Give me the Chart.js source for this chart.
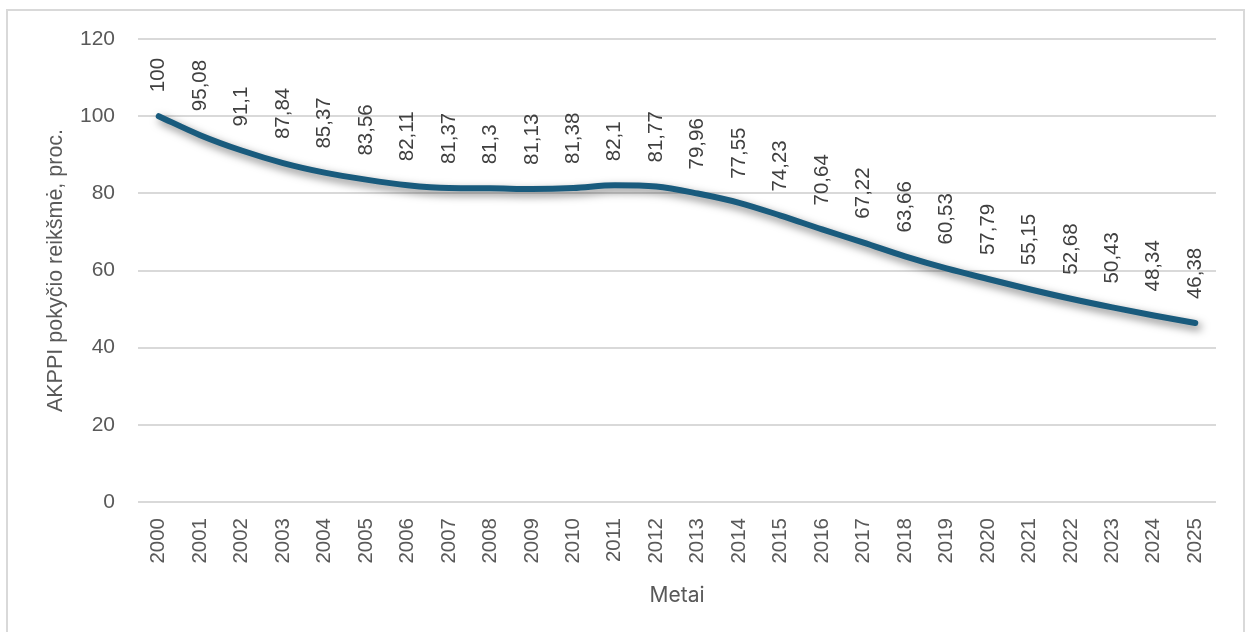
<!DOCTYPE html>
<html>
<head>
<meta charset="utf-8">
<script src="https://cdn.jsdelivr.net/npm/chart.js@4.4.1/dist/chart.umd.min.js"></script>
<style>
    html, body { margin: 0; padding: 0; background: #fff; overflow: hidden; }
    #frame {
        position: absolute; left: 6px; top: 9px; width: 1239px; height: 700px;
        border: 2px solid #d9d9d9; box-sizing: border-box; background: #fff;
    }
    #wrap { position: absolute; left: 0; top: 0; width: 1251px; height: 632px; }
</style>
</head>
<body>
<div id="frame"></div>
<div id="wrap"><canvas id="chart" width="1251" height="632"></canvas></div>
<script>
// metai ir AKPPI pokyčio reikšmės
const years = ['2000', '2001', '2002', '2003', '2004', '2005', '2006', '2007', '2008', '2009',
    '2010', '2011', '2012', '2013', '2014', '2015', '2016', '2017', '2018', '2019',
    '2020', '2021', '2022', '2023', '2024', '2025'];
const values = [100, 95.08, 91.1, 87.84, 85.37, 83.56, 82.11, 81.37, 81.3, 81.13,
    81.38, 82.1, 81.77, 79.96, 77.55, 74.23, 70.64, 67.22, 63.66, 60.53,
    57.79, 55.15, 52.68, 50.43, 48.34, 46.38];
const yTicks = [0, 20, 40, 60, 80, 100, 120];

const textColor = '#595959';
const lineColor = '#195b7d';
const baseFont = '"Liberation Sans", Arial, sans-serif';

// šešėlis linijai
const shadowPlugin = {
    id: 'lineShadow',
    beforeDatasetDraw(chart) {
        const ctx = chart.ctx;
        ctx.save();
        ctx.shadowColor = 'rgba(0, 0, 0, 0.5)';
        ctx.shadowBlur = 8;
        ctx.shadowOffsetX = 3;
        ctx.shadowOffsetY = 4;
    },
    afterDatasetDraw(chart) {
        chart.ctx.restore();
    }
};

// vertikalios reikšmių etiketės virš taškų
const valueLabels = {
    id: 'valueLabels',
    afterDatasetsDraw(chart) {
        const ctx = chart.ctx;
        const meta = chart.getDatasetMeta(0);
        ctx.save();
        ctx.font = '20.5px ' + baseFont;
        ctx.fillStyle = '#404040';
        ctx.textAlign = 'left';
        ctx.textBaseline = 'middle';
        meta.data.forEach((pt, i) => {
            const txt = String(values[i]).replace('.', ',');
            ctx.save();
            ctx.translate(pt.x, pt.y - 24);
            ctx.rotate(-Math.PI / 2);
            ctx.fillText(txt, 0, 0);
            ctx.restore();
        });
        ctx.restore();
    }
};

new Chart(document.getElementById('chart'), {
    type: 'line',
    data: {
        labels: years,
        datasets: [{
            data: values,
            borderColor: lineColor,
            borderWidth: 6,
            borderCapStyle: 'round',
            borderJoinStyle: 'round',
            pointRadius: 0,
            fill: false,
            cubicInterpolationMode: 'monotone'
        }]
    },
    plugins: [shadowPlugin, valueLabels],
    options: {
        responsive: false,
        animation: false,
        layout: { padding: { top: 39, right: 35, bottom: 0, left: 0 } },
        plugins: {
            legend: { display: false },
            tooltip: { enabled: false }
        },
        scales: {
            x: {
                offset: true,
                grid: { display: false, drawTicks: false },
                border: { display: false },
                ticks: {
                    color: textColor,
                    minRotation: 90,
                    maxRotation: 90,
                    autoSkip: false,
                    padding: 16,
                    font: { family: baseFont, size: 20.5 }
                },
                title: {
                    display: true,
                    text: 'Metai',
                    color: textColor,
                    padding: { top: 0, bottom: 24 },
                    font: { family: 'Inter, "Liberation Sans", sans-serif', size: 21 }
                },
                afterFit(scale) { scale.height = 130; }
            },
            y: {
                min: 0,
                max: 120,
                afterBuildTicks(scale) { scale.ticks = yTicks.map(v => ({ value: v })); },
                grid: { color: '#d9d9d9', lineWidth: 2, drawTicks: false },
                border: { display: false },
                ticks: {
                    color: textColor,
                    padding: 23,
                    font: { family: baseFont, size: 21 }
                },
                title: {
                    display: true,
                    text: 'AKPPI pokyčio reikšmė, proc.',
                    color: textColor,
                    padding: { top: 43, bottom: 0 },
                    font: { family: baseFont, size: 21.5 }
                },
                afterFit(scale) { scale.width = 138; }
            }
        }
    }
});
</script>
</body>
</html>
